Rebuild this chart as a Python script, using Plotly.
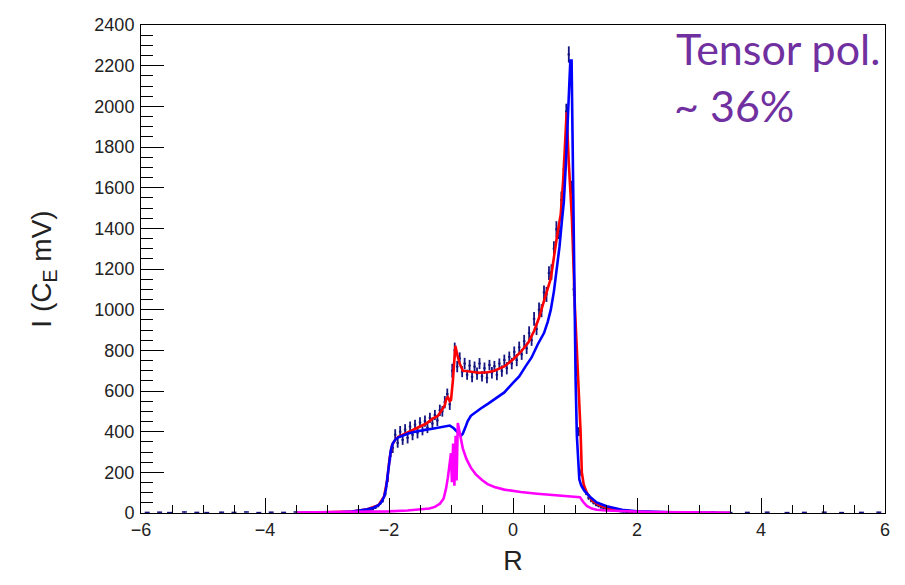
import plotly.graph_objects as go

# ---------------- data ----------------
# histogram (bins of width 0.04 starting at R = -2.60)
hist_start = -2.60
hist_width = 0.04
hist_vals = [
    4, 2, 6, 5, 9, 7, 12, 15, 18, 26,
    35, 48, 62, 95, 170, 280, 320, 385, 345, 400,
    360, 410, 370, 425, 385, 435, 395, 445, 405, 452,
    420, 468, 440, 482, 455, 505, 500, 545, 585, 535,
    700, 800, 720, 760, 695, 735, 680, 725, 670, 720,
    685, 735, 672, 712, 665, 728, 690, 722, 680, 735,
    698, 752, 712, 768, 735, 792, 752, 815, 780, 845,
    810, 885, 850, 955, 905, 1000, 995, 1085, 1075, 1180,
    1185, 1300, 1395, 1385, 1540, 1690, 1975, 2255, 1600, 1100,
    700, 400, 200, 130, 100, 75, 62, 50, 40, 35,
    28, 24, 20, 17, 14, 12, 10, 9, 7, 6,
    5, 4, 3, 3, 2,
]
hist_errs = [
    3, 2, 3, 3, 4, 3, 4, 5, 5, 6,
    7, 8, 10, 12, 18, 22, 25, 27, 24, 28,
    25, 27, 28, 25, 27, 24, 28, 26, 23, 28,
    27, 25, 28, 25, 27, 28, 26, 30, 27, 28,
    34, 38, 28, 30, 27, 28, 25, 28, 27, 25,
    30, 27, 25, 28, 27, 25, 28, 26, 27, 25,
    28, 27, 30, 26, 28, 27, 30, 28, 27, 31,
    28, 33, 28, 34, 30, 35, 32, 34, 37, 34,
    38, 37, 40, 38, 41, 44, 38, 40, 34, 32,
    28, 22, 18, 14, 12, 10, 9, 8, 7, 7,
    6, 6, 5, 5, 5, 4, 4, 4, 3, 3,
    3, 3, 3, 2, 2,
]
# sparse near-zero bins in the tails
tail_x = [-5.90, -5.70, -5.54, -5.30, -5.10, -4.94, -4.70, -4.50, -4.30, -4.10,
          -3.90, -3.70, -3.50, -3.30, -3.10, -2.90, -2.70,
          2.10, 2.30, 2.62, 2.90, 3.22, 3.50, 3.78, 4.10, 4.42, 4.70, 5.02, 5.30, 5.62, 5.90]
tail_y = [3, 4, 2, 5, 3, 2, 4, 3, 5, 2,
          4, 3, 5, 4, 3, 5, 4,
          3, 4, 2, 3, 4, 2, 3, 4, 2, 3, 4, 2, 3, 4]

# fit curves
red_x = [-3.5, -3.0, -2.6, -2.35, -2.17, -2.08, -2.03, -1.99, -1.95, -1.90, -1.85, -1.70,
         -1.53, -1.40, -1.29, -1.21, -1.15, -1.10, -1.077, -1.05, -1.02, -1.0, -0.97, -0.945,
         -0.93, -0.90, -0.86, -0.81, -0.70, -0.55, -0.41, -0.30, -0.14, 0.0, 0.125, 0.25, 0.34,
         0.42, 0.50, 0.61, 0.71, 0.77, 0.81, 0.84, 0.865, 0.90, 0.95, 1.0, 1.04, 1.07, 1.09,
         1.11, 1.14, 1.19, 1.28, 1.40, 1.55, 1.79, 2.0, 2.4, 3.0, 3.5]
red_y = [0, 2, 7, 18, 38, 80, 160, 270, 335, 360, 375, 396,
         420, 440, 465, 478, 505, 530, 560, 570, 550, 555, 650, 760,
         822, 780, 735, 700, 695, 690, 692, 700, 721, 755, 792, 840, 895,
         960, 1043, 1154, 1361, 1470, 1640, 1820, 1970, 1720, 1450, 1000, 750, 600, 400,
         200, 140, 100, 60, 38, 22, 12, 6, 3, 1, 0]

blue_x = [-3.5, -3.2, -3.0, -2.8, -2.6, -2.45, -2.35, -2.25, -2.17, -2.12, -2.08, -2.05,
          -2.03, -2.01, -1.99, -1.97, -1.94, -1.90, -1.85, -1.78, -1.69, -1.60, -1.50, -1.40,
          -1.30, -1.20, -1.10, -1.02, -0.96, -0.91, -0.87, -0.84, -0.81, -0.77, -0.73, -0.68,
          -0.60, -0.52, -0.40, -0.30, -0.14, 0.0, 0.10, 0.20, 0.30, 0.40, 0.50, 0.56, 0.61,
          0.66, 0.71, 0.75, 0.79, 0.82, 0.85, 0.88, 0.905, 0.925, 0.945, 0.96, 0.975, 0.99,
          1.01, 1.03, 1.05, 1.07, 1.10, 1.15, 1.24, 1.35, 1.51, 1.65, 1.79, 2.0, 2.3, 2.7,
          3.1, 3.5]
blue_y = [0, 1, 2, 4, 7, 12, 18, 26, 38, 55, 80, 115,
          160, 215, 270, 310, 342, 360, 372, 382, 391, 398, 405, 410,
          414, 420, 425, 430, 418, 405, 390, 380, 390, 420, 452, 478,
          497, 514, 538, 560, 593, 640, 672, 720, 765, 830, 885, 940, 1000,
          1090, 1200, 1310, 1440, 1530, 1700, 1930, 2130, 2225, 2225, 1850, 1450, 1000,
          650, 380, 230, 165, 135, 110, 80, 52, 33, 22, 14, 8, 4, 2,
          1, 0]

mag_x = [-3.5, -3.0, -2.5, -2.0, -1.7, -1.5, -1.35, -1.26, -1.18, -1.12, -1.08, -1.05,
         -1.02, -1.0, -0.985, -0.965, -0.945, -0.925, -0.91, -0.89, -0.85, -0.81, -0.75,
         -0.68, -0.60, -0.50, -0.41, -0.30, -0.14, 0.125, 0.39, 0.70, 0.90, 1.0, 1.08,
         1.13, 1.19, 1.27, 1.35, 1.50, 1.79, 2.2, 2.8, 3.5]
mag_y = [2, 3, 5, 8, 12, 16, 22, 30, 45, 70, 120, 175,
         253, 294, 152, 341, 134, 380, 160, 443, 380, 318, 265,
         223, 190, 162, 142, 128, 115, 103, 95, 88, 84, 82, 78,
         55, 35, 22, 16, 12, 8, 5, 3, 1]

x_ticks = [-6, -4, -2, 0, 2, 4, 6]
y_ticks = [0, 200, 400, 600, 800, 1000, 1200, 1400, 1600, 1800, 2000, 2200, 2400]

# ---------------- figure ----------------
hist_x = [hist_start + hist_width * (i + 0.5) for i in range(len(hist_vals))]
navy = "#141480"

# page body has an 8px margin: figure is 16px smaller and offsets are compensated
W, H = 889, 569
PL, PR, PT, PB = 133, 882, 7, 512  # plot area in figure pixels

fig = go.Figure()
fig.add_trace(go.Scatter(
    x=tail_x, y=tail_y, mode="markers",
    marker=dict(size=1, color=navy),
    error_x=dict(type="constant", value=0.04, width=0, thickness=1.5, color=navy),
    error_y=dict(type="constant", value=1, width=0, thickness=1.2, color=navy),
    showlegend=False, hoverinfo="skip"))
fig.add_trace(go.Scatter(
    x=hist_x, y=hist_vals, mode="markers",
    marker=dict(size=1, color=navy),
    error_x=dict(type="constant", value=hist_width / 2, width=0, thickness=1.8, color=navy),
    error_y=dict(type="data", array=hist_errs, width=0, thickness=1.8, color=navy),
    showlegend=False))
fig.add_trace(go.Scatter(x=red_x, y=red_y, mode="lines",
                         line=dict(color="#ff0000", width=2.6), showlegend=False))
fig.add_trace(go.Scatter(x=blue_x, y=blue_y, mode="lines",
                         line=dict(color="#0000ff", width=2.6), showlegend=False))
fig.add_trace(go.Scatter(x=mag_x, y=mag_y, mode="lines",
                         line=dict(color="#ff00ff", width=2.6), showlegend=False))

axis_font = dict(family="Liberation Sans, Arial, sans-serif", size=18, color="#222222")
fig.update_layout(
    width=W, height=H,
    margin=dict(l=PL, r=W - PR, t=PT, b=H - PB),
    paper_bgcolor="white", plot_bgcolor="white",
    xaxis=dict(
        range=[-6, 6], tickvals=x_ticks, ticks="inside", ticklen=15, tickwidth=1,
        tickcolor="black", showline=True, linecolor="black", linewidth=1, mirror=True,
        showgrid=False, zeroline=False, tickfont=axis_font, ticklabeloverflow="allow",
        minor=dict(dtick=0.5, tick0=-6, ticks="inside", ticklen=8, tickwidth=1, tickcolor="black"),
        title=dict(text="R", font=dict(family="Liberation Sans, Arial, sans-serif", size=27,
                                       color="#222222"), standoff=12),
    ),
    yaxis=dict(
        range=[0, 2400], tickvals=y_ticks, ticks="inside", ticklen=23, tickwidth=1,
        tickcolor="black", showline=True, linecolor="black", linewidth=1, mirror=True,
        showgrid=False, zeroline=False, tickfont=axis_font, ticklabelstandoff=2,
        ticklabeloverflow="allow",
        minor=dict(dtick=50, tick0=0, ticks="inside", ticklen=12, tickwidth=1, tickcolor="black"),
        title=dict(text="I (C<sub>E</sub> mV)",
                   font=dict(family="Liberation Sans, Arial, sans-serif", size=28, color="#222222"),
                   standoff=34),
    ),
)

purple = "#7030A0"
plot_h = PB - PT
plot_w = PR - PL


def paper_xy(fx, fy):
    # fx, fy in figure pixels from the top-left corner
    return ((fx - PL) / plot_w, (PB - fy) / plot_h)


x1, y1 = paper_xy(670, 2.5)
x2, y2 = paper_xy(668, 61.5)
fig.add_annotation(text="Tensor pol.", xref="paper", yref="paper",
                   x=x1, y=y1, xanchor="left", yanchor="top",
                   showarrow=False, font=dict(family="Lato, Carlito, sans-serif", size=43, color=purple))
fig.add_annotation(text="~ 36%", xref="paper", yref="paper",
                   x=x2, y=y2, xanchor="left", yanchor="top",
                   showarrow=False, font=dict(family="Lato, Carlito, sans-serif", size=43, color=purple))

fig.write_html("out.html")
